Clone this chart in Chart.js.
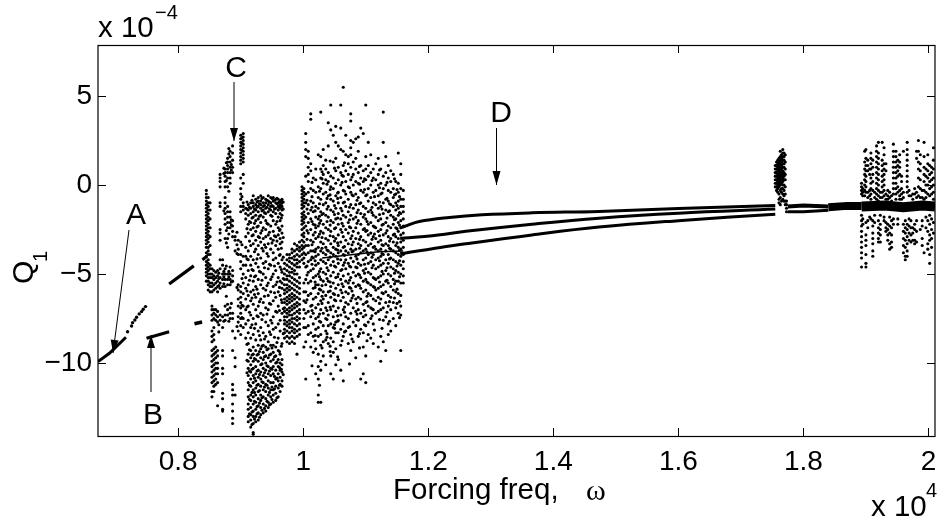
<!DOCTYPE html>
<html>
<head>
<script src="https://cdnjs.cloudflare.com/ajax/libs/Chart.js/4.4.0/chart.umd.js"></script>
<style>
  html, body { margin: 0; background: #fff; }
  canvas { display: block; }
</style>
<script>
  var xTicks = [0.8, 1, 1.2, 1.4, 1.6, 1.8, 2];
  var yTicks = [-10, -5, 0, 5];

  // smooth branches as [freq, Q]
  var branchA1 = [[0.6717,-9.92],[0.69,-9.45],[0.7164,-8.55]];
  var branchA2 = [[0.7855,-5.56],[0.8249,-4.54]];
  var branchA3 = [[0.8387,-4.2],[0.8462,-4.0]];
  var branchB1 = [[0.7493,-8.61],[0.7855,-8.24]];
  var branchB2 = [[0.826,-7.79],[0.8382,-7.69]];
  var upperBranch = [[1.155,-2.4],[1.1616,-2.33],[1.1856,-2.05],[1.2335,-1.82],[1.286,-1.67],[1.366,-1.56],[1.473,-1.48],[1.6,-1.32],[1.755,-1.15]];
  var middleBranch = [[1.155,-3.0],[1.1616,-2.98],[1.2065,-2.85],[1.26,-2.6],[1.366,-2.2],[1.473,-1.86],[1.6,-1.58],[1.755,-1.35]];
  var lowerBranch = [[1.155,-3.85],[1.1616,-3.83],[1.2065,-3.58],[1.26,-3.3],[1.366,-2.8],[1.473,-2.36],[1.6,-2.0],[1.755,-1.64]];
  var cloudThread = [[1.03,-4.1],[1.08,-3.9],[1.12,-3.75],[1.16,-3.7]];
  var afterBurstUpper = [[1.775,-1.2],[1.8,-1.15],[1.84,-1.2]];
  var afterBurstLower = [[1.775,-1.5],[1.8,-1.5],[1.84,-1.42]];
  var plateau = [[1.84,-1.25],[1.87,-1.17],[1.893,-1.17]];
  var rightBand = [[1.893,-1.2],[1.93,-1.15],[1.96,-1.25],[1.99,-1.15],[2.0105,-1.2]];

  // isolated dots on the way up branch A
  var stepFreq = [0.719,0.7254,0.727,0.7307,0.7334,0.7376,0.7414,0.744,0.7477];
  var stepQ = [-8.24,-7.92,-7.73,-7.58,-7.43,-7.24,-7.11,-6.98,-6.83];

  // scattered regions: one frequency per column, the Q values seen in that column
  var cloudAFreq = [0.845,0.848,0.851,0.854,0.857,0.86,0.863,0.867,0.871,0.875,0.879,0.883,0.887,0.891,0.896,0.9,0.904,0.908];
  var cloudAQ = [
    [-0.3,-0.5,-0.7,-0.9,-1.1,-1.3,-1.5,-1.7,-1.9,-2.1,-2.3,-2.5,-2.7,-2.9,-3.1,-3.3,-3.5,-3.8,-4,-4.3,-4.5,-4.7,-4.9,-5.1,-5.4],
    [-0.7,-1,-1.2,-1.4,-1.6,-1.8,-2,-2.2,-2.4,-2.6,-2.8,-3,-3.2,-3.5,-3.7,-3.9,-4.2,-4.4,-4.6,-4.8,-5,-5.2,-5.4,-5.6,-5.9],
    [-1,-1.4,-1.9,-2.4,-2.9,-3.4,-3.9,-4.5,-4.7,-5,-5.2,-5.5,-5.7,-6],
    [-4.7,-5,-5.2,-5.5,-5.7,-6,-6.8,-7,-7.3,-7.6,-8.2,-8.5,-8.8,-9.3,-9.6,-9.9,-10.2,-10.5,-10.8,-11.1,-11.6,-11.9],
    [-4.8,-5.1,-5.3,-5.6,-5.9,-7,-7.2,-7.5,-8,-8.4,-8.7,-9.2,-9.5,-9.8,-10.1,-10.4,-10.7,-11,-11.3,-11.6],
    [-4.9,-5.2,-5.5,-5.8,-7,-7.3,-7.6,-9.1,-9.4,-9.7,-10,-10.3,-10.6,-10.9,-11.2],
    [-4.8,-5.1,-5.4,-5.7,-6,-7.1,-7.4,-7.7,-9.3,-9.6,-10,-10.3,-10.6,-11.1,-12.4],
    [0.6,0.4,0.2,-0.1,-1,-1.2,-2.5,-2.7,-3.1,-4.2,-4.7,-5.2,-5.5,-5.8,-7.3,-7.6],
    [-4.2,-4.5,-5,-5.3,-5.7,-7.4,-8,-9.3,-9.6,-10.3,-10.6,-11.7,-12,-12.6,-12.7],
    [0.9,0.7,0.5,0.2,-0.1,-0.7,-1,-1.3,-1.6,-1.9,-2.2,-3,-4.7,-5,-5.3,-5.7,-6.8,-7.3,-7.6],
    [1.5,1.3,1.1,0.9,0.7,0.4,-0.1,-1.2,-1.5,-1.8,-2.1,-2.4,-3,-3.5,-5,-5.3,-5.6,-6.7,-7,-7.3],
    [1.9,1.6,1.3,1,0.7,0.4,0.1,-1.5,-1.8,-2.1,-2.4,-4.6,-5,-5.3,-5.6,-6.9,-7.2,-7.5],
    [2.2,1.8,1.4,1,0.7,-2,-2.3,-2.6,-2.9,-4.8,-5.1,-5.4,-7.2,-7.5,-8.2,-9.3,-11.2,-11.5,-11.8,-12.3,-12.7,-13.1,-13.4],
    [-2.9,-3.1,-3.7,-8.6,-9.7,-10.2,-11.8],
    [-3.1,-3.6,-3.9,-5.6,-5.9,-6.4,-6.8,-7.4,-7.7,-8.2],
    [2.8,2.6,2.4,2.2,2,1.8,1.6,1.4,1.2,0.4,-0.2,-0.5,-0.8,-1.2,-1.5,-3.2,-3.9,-4.3,-4.7,-5.7,-6,-6.3,-6.6,-6.9,-7.2,-7.5,-7.9,-8.4],
    [2.9,2.7,2.5,2.3,2.1,1.9,1.7,1.5,1.3,0.6,0.1,-1,-1.2,-1.4,-4,-4.5,-5,-5.5,-6.1,-6.8,-7.5,-8],
    [-1.3,-1.6,-1.9,-2.9,-3.5,-4,-4.5,-5.2,-5.8,-6.4,-7,-7.8,-8.6]
  ];

  var cloudBFreq = [0.912,0.916,0.92,0.924,0.928,0.932,0.936,0.94,0.944,0.948,0.952,0.956,0.96,0.963,0.966];
  var cloudBQ = [
    [-1.1,-1.4,-1.7,-2.2,-2.7,-3.7,-4.2,-4.8,-5.6,-6.2,-6.8,-7.6,-8.3,-8.9,-9.5,-9.9,-10.3,-10.7,-11.1,-11.5,-11.9,-12.3,-12.6,-13,-13.3],
    [-1,-1.3,-1.6,-2.1,-2.5,-3.4,-4,-4.5,-5.1,-6,-6.5,-7.3,-8,-8.6,-9.3,-9.7,-10.1,-10.5,-10.9,-11.3,-11.8,-12.1,-12.5,-12.9,-13.2,-13.6],
    [-0.6,-1,-1.2,-1.5,-1.8,-2.4,-2.8,-3.3,-4.2,-4.8,-5.4,-5.9,-6.7,-7.5,-8.4,-9.1,-9.5,-9.9,-10.3,-10.7,-11.1,-11.5,-11.9,-12.3,-12.7,-13,-13.4,-13.9,-14],
    [-0.8,-1.1,-1.4,-1.7,-2,-2.6,-3.1,-3.6,-4.4,-5.1,-5.7,-6.3,-7,-7.8,-8.7,-9.3,-9.8,-10.2,-10.6,-11,-11.4,-11.8,-12.2,-12.6,-13,-13.3],
    [-0.7,-0.9,-1.2,-1.5,-1.9,-2.3,-2.9,-3.4,-3.9,-4.6,-5.3,-6.1,-6.8,-7.4,-8.2,-9,-9.5,-9.9,-10.4,-10.8,-11.2,-11.6,-12,-12.4,-12.8,-13.2],
    [-0.6,-0.9,-1.1,-1.3,-1.7,-2.1,-2.7,-3.2,-4.1,-4.9,-5.6,-6.4,-7.2,-8,-8.7,-9.2,-9.7,-10.1,-10.5,-10.9,-11.3,-11.8,-12.1,-12.5,-12.9],
    [-0.7,-1,-1.2,-1.4,-1.8,-2.4,-3,-3.7,-4.4,-5,-5.8,-6.6,-7.3,-8.3,-9,-9.4,-9.8,-10.3,-10.7,-11.1,-11.5,-11.9,-12.3,-12.8],
    [-0.8,-1,-1.3,-1.6,-2,-2.5,-2.9,-3.5,-4.3,-5.2,-5.9,-6.9,-7.7,-8.5,-9.1,-9.6,-10,-10.4,-10.8,-11.2,-11.6,-12,-12.4,-12.7],
    [-0.6,-0.9,-1.1,-1.5,-2.2,-2.8,-3.3,-4,-4.7,-5.5,-6.2,-7,-7.9,-8.8,-9.2,-9.7,-10.2,-10.6,-11,-11.4,-11.8,-12.2,-12.5],
    [-0.7,-1,-1.2,-1.4,-1.7,-2.3,-3,-3.6,-4.5,-5.3,-6,-6.7,-7.6,-8.4,-9,-9.5,-9.9,-10.3,-10.7,-11.1,-11.5,-11.9,-12.3],
    [-0.7,-0.9,-1.2,-1.5,-2,-2.6,-3.1,-3.8,-4.2,-5,-5.7,-6.5,-7.4,-8.1,-9,-9.4,-9.8,-10.2,-10.6,-11.1,-11.5,-11.8,-12.2],
    [-0.8,-1,-1.3,-1.6,-2.2,-2.9,-3.4,-4.1,-4.8,-5.6,-6.3,-7.1,-8,-9.1,-9.6,-10,-10.4,-10.9,-11.3,-11.7,-12.1],
    [-0.8,-1,-1.2,-1.4,-1.8,-2.4,-2.8,-3.6,-4.4,-5.2,-6,-6.8,-7.8,-8.6,-9.3,-9.8,-10.2,-10.6,-11,-11.4,-11.9],
    [-0.9,-1.1,-1.3,-1.6,-2,-2.5,-3,-3.3,-3.9,-4.6,-5.4,-6.2,-7.6,-8.2,-9.5,-10,-10.4,-10.8,-11.2,-11.6],
    [-0.8,-1,-1.2,-1.4,-1.7,-2.3,-2.7,-3.2,-4.2,-4.9,-5.5,-5.8,-6.6,-7.2,-8.9,-9.8,-10.1,-10.5,-11,-11.3]
  ];

  var cloudCFreq = [0.97,0.974,0.978,0.982,0.986,0.99,0.994,0.998,1.001];
  var cloudCQ = [
    [-4.4,-4.7,-5,-5.3,-5.6,-5.9,-6.1,-6.4,-6.6,-6.9,-7.1,-7.4,-7.6,-7.8,-8.1,-8.3,-8.6],
    [-3.9,-4.2,-4.5,-4.8,-5.1,-5.3,-5.6,-5.8,-6,-6.3,-6.5,-6.7,-7,-7.2,-7.4,-7.7,-7.9,-8.2,-8.5,-8.8],
    [-3.9,-4.1,-4.3,-4.6,-4.9,-5.1,-5.4,-5.7,-5.9,-6.2,-6.4,-6.6,-6.9,-7.1,-7.3,-7.6,-7.8,-8,-8.3,-8.6,-8.9],
    [-3.6,-3.8,-4.1,-4.4,-4.7,-4.9,-5.2,-5.5,-5.8,-6.1,-6.3,-6.5,-6.8,-7,-7.3,-7.5,-7.7,-8,-8.2,-8.5,-8.8],
    [-3.3,-3.7,-4,-4.2,-4.5,-4.8,-5,-5.3,-5.6,-5.9,-6.2,-6.4,-6.7,-6.9,-7.2,-7.5,-7.8,-8.1,-8.3,-8.6,-8.9],
    [-3.4,-3.6,-3.9,-4.2,-4.4,-4.6,-5,-5.4,-5.7,-6,-6.3,-6.6,-6.8,-7.1,-7.4,-7.6,-7.9,-8.2,-8.5,-9.5],
    [-3.2,-3.5,-3.7,-4,-4.3,-4.6,-5.2,-5.5,-5.8,-6.1,-6.4,-6.7,-7,-7.2,-7.5,-7.8,-8.1,-8.4],
    [-0.1,-0.3,-0.5,-0.7,-0.9,-1.1,-1.3,-1.6,-1.8,-2,-2.2,-2.5,-2.8,-3.1,-3.4,-3.6,-3.9,-4.2],
    [-0.2,-0.4,-0.6,-0.8,-1,-1.2,-1.5,-1.7,-1.9,-2.1,-2.4,-2.7,-2.9,-3.2,-3.5,-3.8,-4.1,-4.4,-5.5,-6,-6.5,-7,-7.5,-8,-9.1]
  ];

  var cloudDFreq = [1.004,1.008,1.012,1.016,1.02,1.024,1.028,1.032,1.036,1.04,1.044,1.048,1.052,1.056,1.06,1.064,1.068,1.072,1.076,1.08,1.084,1.088,1.092,1.096,1.1,1.104,1.108,1.112,1.116,1.12,1.124,1.128,1.132,1.136,1.14,1.144,1.148,1.152,1.156,1.16];
  var cloudDQ = [
    [2.9,2.4,2,1.6,0.5,-0.5,-1,-1.8,-2.3,-3.4,-3.9,-4.6,-5.3,-6,-6.6,-7.2,-8,-8.8,-10.9],
    [1.9,1.5,1,0.6,0.2,-0.4,-1.1,-1.6,-2.1,-2.7,-3.4,-3.8,-4.3,-4.9,-5.5,-6.2,-7.1,-7.9,-8.4],
    [4,3.7,1.2,0.8,-0.2,-0.9,-1.4,-1.9,-2.5,-3.1,-3.7,-4.2,-4.8,-5.4,-6.1,-6.8,-7.4,-8.3,-9.1],
    [0.4,-0.3,-1,-1.5,-2.2,-2.8,-3.2,-3.7,-4.1,-4.7,-5.2,-5.8,-6.4,-7.2,-7.8,-8.5,-9.4],
    [0.9,0.3,-0.4,-1.2,-1.8,-2.4,-3,-3.6,-4,-4.5,-5.1,-5.6,-6.3,-6.9,-7.5,-8.1,-9.2,-10.6],
    [1.7,-0.1,-0.7,-1.3,-1.9,-2.3,-2.9,-3.5,-3.9,-4.4,-5,-5.6,-6.1,-6.7,-7.4,-8,-8.5,-9.5,-10.2,-10.9,-11.8,-12.2],
    [4.1,1.6,0.9,0.4,-0.2,-0.8,-1.5,-2,-2.6,-3.2,-3.7,-4.2,-4.7,-5.3,-5.9,-6.5,-7,-7.7,-8.4,-9,-9.9,-10.4,-12.2],
    [2,1.1,0.6,0.1,-0.5,-1.1,-1.6,-2.2,-2.7,-3.3,-3.8,-4.3,-4.9,-5.4,-6,-6.4,-7.2,-7.9,-8.8,-9.6],
    [1.4,0.9,0.3,-0.4,-1,-1.7,-2.4,-3,-3.5,-3.9,-4.4,-5,-5.6,-6.2,-6.9,-7.5,-8.2,-8.7,-10.1],
    [3.5,2.2,0.7,0.2,-0.6,-1.2,-1.8,-2.5,-3.1,-3.7,-4.2,-4.8,-5.4,-6,-6.6,-7.3,-7.9,-8.9],
    [4.5,3.1,0.5,-0.1,-0.8,-1.4,-2,-2.6,-3.3,-3.8,-4.5,-5.1,-5.7,-6.3,-7,-7.8,-8.6,-9.6,-10.6],
    [2.8,1.3,0.4,-0.2,-0.9,-1.5,-2.1,-2.9,-3.5,-3.9,-4.3,-4.9,-5.5,-6.1,-6.8,-7.4,-8,-8.8,-9.4,-10.9],
    [3.3,2.4,1.5,0.8,0.1,-0.6,-1.3,-1.9,-2.4,-3,-3.6,-4,-4.6,-5.2,-5.8,-6.5,-7.1,-7.7,-8.3,-9.2,-10.1],
    [2.2,1,0.3,-0.4,-1,-1.6,-2.2,-2.8,-3.4,-3.8,-4.4,-5,-5.6,-6.2,-6.9,-7.6,-8.3,-9.8],
    [4.5,3.2,2,0.7,0,-0.7,-1.3,-1.9,-2.5,-3.2,-3.7,-4.2,-4.8,-5.3,-5.9,-6.5,-7.3,-8.1,-9,-10.4],
    [5.5,1.9,1.1,0.5,-0.3,-1,-1.7,-2.3,-2.9,-3.5,-3.9,-4.5,-5.1,-5.7,-6.3,-7,-7.8,-8.5,-11],
    [2.8,1.7,0.8,0.2,-0.5,-1.2,-1.8,-2.5,-3.1,-3.7,-4.2,-4.7,-5.4,-6,-6.6,-7.4,-8.2],
    [1.6,1.2,0.6,-0.1,-0.8,-1.5,-2.1,-2.7,-3.3,-3.8,-4.4,-5,-5.5,-6.1,-6.7,-7.5,-8,-8.9],
    [4,3.6,2.5,2.1,1.7,1,0.3,-0.4,-1.1,-1.7,-2.4,-3,-3.6,-4.1,-4.6,-5.2,-5.8,-6.5,-7.2,-8.4,-9.3],
    [2.4,1.3,0.6,0,-0.6,-1.3,-1.9,-2.6,-3.2,-3.7,-4.3,-4.9,-5.5,-6.2,-6.9,-7.7,-8.8],
    [2.6,1.5,0.9,0.2,-0.5,-1.1,-1.8,-2.4,-3,-3.6,-4,-4.6,-5.1,-5.7,-6.4,-7.1,-7.9,-9.7],
    [2.7,1.9,0.7,0.1,-0.7,-1.4,-2,-2.7,-3.3,-3.9,-4.4,-5,-5.6,-6.3,-7,-7.6,-8.5],
    [3.2,1.1,0.4,-0.3,-1,-1.6,-2.2,-2.9,-3.4,-3.8,-4.5,-5.2,-5.8,-6.4,-7.2,-8.1,-10.9],
    [2.9,0.8,0.2,-0.4,-1.2,-1.8,-2.5,-3.1,-3.7,-4.2,-4.8,-5.4,-6,-6.7,-7.4,-8.3,-9.1,-10.6],
    [4.5,1.6,0.9,0.3,-0.6,-1.3,-1.9,-2.6,-3.2,-3.6,-4.1,-4.7,-5.3,-5.9,-6.6,-7.3,-7.9,-9.6,-11.1],
    [2.4,1.1,0.5,-0.2,-0.9,-1.5,-2.2,-2.8,-3.4,-3.9,-4.4,-4.9,-5.5,-6.1,-6.8,-7.7,-8.4],
    [1.7,0.7,0,-0.7,-1.4,-2.1,-2.7,-3.3,-3.8,-4.3,-5,-5.6,-6.2,-6.9,-7.5,-8.6],
    [0.9,0.4,-0.4,-1,-1.7,-2.3,-2.9,-3.5,-3.9,-4.5,-5.2,-5.7,-6.4,-7,-7.8,-8.9],
    [1.2,0.3,-0.3,-1.1,-1.8,-2.4,-3,-3.6,-4.2,-4.7,-5.3,-5.9,-6.5,-7.2],
    [1.5,0.6,0,-0.6,-1.3,-2,-2.6,-3.2,-3.7,-4.1,-4.6,-5.2,-5.8,-6.3,-7.1,-9.1],
    [0.9,0.1,-0.5,-1.2,-1.9,-2.5,-3.1,-3.6,-4,-4.5,-5.1,-5.7,-6.4,-7,-8.5,-9.9],
    [4.1,2.4,0.5,-0.2,-1,-1.6,-2.2,-2.8,-3.4,-3.9,-4.4,-5,-5.6,-6.1,-6.9,-7.6,-8.8],
    [1.6,0.7,0,-0.8,-1.4,-2.1,-2.7,-3.3,-3.7,-4.2,-4.8,-5.4,-6,-6.6,-7.4,-9.3],
    [1.1,0.4,-0.3,-0.9,-1.5,-2.3,-2.9,-3.4,-3.9,-4.4,-5,-5.5,-6.2,-6.8,-7.8,-8.4],
    [0.8,0.2,-0.4,-1.1,-1.7,-2.4,-3,-3.6,-4.1,-4.6,-5.1,-5.7,-6.3,-7,-8.2],
    [0.6,-0.2,-0.7,-1.2,-1.8,-2.2,-2.8,-3.2,-3.7,-4.2,-4.7,-5.3,-5.9,-6.6,-7.5],
    [0.2,-0.5,-1,-1.4,-1.9,-2.4,-2.9,-3.4,-3.8,-4.3,-4.8,-5.4,-6,-6.9,-7.9],
    [1.8,0.1,-0.4,-0.9,-1.3,-1.7,-2.1,-2.6,-3,-3.5,-3.9,-4.4,-4.9,-5.4,-6.1,-7.2],
    [1.2,0.6,-0.2,-0.8,-1.2,-1.6,-2,-2.4,-2.8,-3.2,-3.6,-4,-4.5,-5,-5.5,-6.2,-6.8,-7.3,-9.3],
    [-0.3,-0.8,-1.2,-1.5,-1.9,-2.3,-2.7,-3.1,-3.5,-3.9,-4.3,-4.7,-5.1,-5.5]
  ];

  // second reading of the big cloud, the clusters the first pass left out
  var cloudEFreq = [1.006,1.014,1.019,1.026,1.03,1.038,1.043,1.05,1.055,1.062,1.066,1.074,1.078,1.086,1.09,1.098,1.102,1.11,1.114,1.122,1.126,1.134,1.138,1.146,1.15,1.154];
  var cloudEQ = [
    [-0.85,-1.35,-2.55,-3.05,-4.55,-5.05,-6.45],
    [0.15,-0.65,-1.25,-2.05,-3.35,-4.05,-4.45,-6.75,-7.05,-10.15],
    [-1.45,-2.25,-2.65,-3.75,-4.25,-5.45,-5.75,-8.45,-8.75],
    [-0.35,-1.05,-1.75,-2.15,-2.75,-4.85,-5.15,-5.85,-7.25,-7.65,-11.25],
    [0.75,0.35,-1.65,-2.95,-3.55,-5.65,-6.25,-6.65,-9.15],
    [0.05,-0.75,-1.35,-2.05,-3.65,-4.65,-5.25,-7.05,-7.55,-8.35,-8.55],
    [1.35,-0.25,-0.55,-2.25,-2.85,-4.05,-5.45,-5.95,-6.85,-9.05,-9.35],
    [0.95,-1.15,-1.65,-2.45,-3.15,-4.55,-6.15,-6.45,-7.85,-8.05],
    [-0.45,-0.75,-1.85,-3.25,-3.65,-4.15,-5.15,-7.35,-7.65,-9.65],
    [0.55,0.15,-1.45,-2.15,-2.65,-4.75,-5.55,-6.05,-8.75],
    [1.25,-0.35,-0.95,-3.45,-3.95,-4.35,-6.85,-7.15,-8.25],
    [-0.15,-1.25,-1.95,-2.35,-4.55,-5.35,-5.75,-7.95,-10.05],
    [0.45,-0.55,-2.85,-3.35,-3.75,-5.95,-6.35,-8.65],
    [-0.85,-1.55,-2.15,-4.15,-4.65,-6.65,-7.25,-7.55],
    [1.05,0.05,-1.05,-3.05,-3.55,-5.05,-5.65,-8.35,-9.15],
    [0.35,-0.25,-1.65,-2.45,-4.45,-4.95,-7.05,-7.85],
    [-0.55,-2.05,-2.55,-3.75,-5.45,-6.25,-6.55,-8.75],
    [0.25,-1.25,-1.55,-3.05,-4.05,-4.65,-6.95,-7.35],
    [-0.65,-2.35,-2.75,-3.45,-5.25,-5.75,-8.15],
    [0.85,-0.15,-0.95,-1.65,-2.85,-4.25,-5.45,-6.65,-7.55],
    [-0.45,-1.35,-2.25,-3.35,-3.85,-4.85,-6.05,-8.05],
    [0.15,-0.75,-1.85,-2.55,-4.65,-5.35,-7.15],
    [-1.05,-1.45,-3.15,-3.55,-4.15,-6.55,-7.65],
    [0.35,-0.55,-1.95,-2.75,-4.95,-5.55,-6.35],
    [-0.25,-1.15,-2.45,-3.25,-4.55,-5.85,-6.65],
    [-0.65,-1.55,-2.25,-3.65,-4.25,-5.15,-6.55,-7.45]
  ];

  // same idea for the left clouds
  var cloudFFreq = [0.865,0.873,0.877,0.881,0.885,0.894,0.902,0.91,0.914,0.918,0.922,0.926,0.93,0.934,0.938,0.942,0.946,0.95,0.954,0.958,0.962,0.965,0.968];
  var cloudFQ = [
    [-4.95,-5.25,-5.65,-7.85,-8.25],
    [0.95,0.65,-1.45,-4.85,-5.15,-5.55,-7.65],
    [1.25,0.25,-2.55,-3.25,-4.55,-6.25],
    [2.05,1.75,-0.35,-2.75,-4.85,-5.15,-7.65],
    [1.15,0.85,-1.95,-2.25,-5.45,-6.65],
    [-2.65,-3.35,-3.85,-5.75,-7.95],
    [2.65,2.35,1.95,-0.65,-3.35,-5.25,-6.75,-7.45],
    [-0.95,-1.35,-2.45,-4.15,-5.95,-6.85,-8.95,-9.85,-10.55],
    [-1.25,-2.05,-3.15,-5.35,-7.15,-9.25,-10.45,-11.25,-12.05,-12.85],
    [-0.85,-1.85,-2.85,-4.75,-6.35,-7.85,-9.55,-10.35,-11.65,-12.75,-13.45],
    [-1.35,-2.15,-3.75,-5.15,-6.15,-8.05,-9.75,-10.85,-11.65,-12.15,-13.15],
    [-0.95,-1.25,-2.35,-4.15,-5.85,-7.35,-9.55,-10.45,-11.25,-12.45,-12.85],
    [-1.05,-1.75,-2.95,-4.85,-6.55,-8.45,-9.35,-10.65,-11.55,-12.25,-13.05],
    [-0.75,-1.45,-2.55,-3.55,-5.35,-7.55,-9.05,-10.05,-11.05,-11.95,-12.65],
    [-1.15,-1.55,-3.35,-4.65,-6.25,-8.65,-9.65,-10.55,-11.35,-12.55],
    [-0.85,-1.25,-2.15,-3.85,-5.65,-7.25,-9.25,-10.15,-11.25,-12.15],
    [-0.95,-1.35,-2.65,-4.45,-6.65,-8.25,-9.55,-10.45,-11.65,-12.35],
    [-0.75,-1.15,-1.75,-3.25,-5.15,-7.75,-9.15,-10.35,-11.35,-12.05],
    [-0.85,-1.35,-2.85,-4.55,-6.05,-8.55,-9.65,-10.75,-11.45],
    [-0.75,-1.05,-2.05,-3.15,-5.45,-7.15,-8.85,-9.95,-10.85,-11.95],
    [-0.95,-1.25,-2.55,-3.95,-5.75,-7.05,-9.35,-10.25,-11.25],
    [-0.85,-1.15,-1.85,-3.55,-4.75,-6.45,-9.05,-10.35],
    [-0.95,-1.35,-2.95,-4.05,-5.25,-6.95,-8.35,-10.65]
  ];

  var burstFreq = [1.755,1.757,1.759,1.761,1.763,1.765,1.767,1.769,1.771,1.773];
  var burstQ = [
    [1.1,0.9,0.7,0.5,0.3,0.1,-0.1],
    [1.3,1.1,0.9,0.7,0.5,0.3,0.1,-0.1,-0.3],
    [1.4,1.2,1,0.8,0.6,0.4,0.2,0,-0.2,-0.4],
    [1.5,1.3,1.1,0.9,0.7,0.5,0.3,0.1,-0.1,-0.5,-0.8,-1],
    [1.9,1.6,1.4,1.2,1,0.8,0.6,0.4,0.2,0,-0.3,-0.7,-1.1],
    [1.7,1.5,1.3,1.1,0.9,0.7,0.5,0.3,0.1,-0.2,-0.4,-0.9],
    [2,1.8,1.6,1.4,1.2,1,0.8,0.6,0.4,0.2,0,-0.2,-0.5,-0.8],
    [1.8,1.6,1.4,1.2,1,0.7,0.5,0.3,0,-0.3,-0.6,-0.9],
    [1.7,1.3,0.9,0.6,0.3,-0.1,-0.5,-0.9,-1.1],
    [-0.9,-1.1,-1.3,-1.5]
  ];

  var rightFreq = [1.893,1.895,1.898,1.9,1.903,1.906,1.908,1.911,1.914,1.917,1.92,1.923,1.926,1.929,1.932,1.935,1.938,1.941,1.944,1.948,1.951,1.954,1.957,1.96,1.963,1.966,1.969,1.972,1.975,1.978,1.981,1.984,1.987,1.99,1.993,1.996,1.999,2.002,2.005,2.008];
  var rightQ = [
    [0.1,-0.1,-0.3,-0.5,-1.7,-2,-2.3,-2.6,-2.9,-3.2,-3.5,-3.8,-4.1,-4.6],
    [-0.2,-0.4,-0.6,-1.9,-2.2],
    [1.9,1.3,0.9,0.6,0.3,0,-0.3,-0.6],
    [2,1.5,1.1,0.8,0.5,0.2,-0.1,-0.4,-2.1,-2.8,-3.1,-3.4,-3.9,-4.4,-4.6],
    [1.4,1.1,0.8,-0.4,-0.7,-2,-2.4],
    [0.9,0.6,-0.3,-0.6,-1.8],
    [1.8,1.5,1.2,0.9,0.4,0.1,-0.2,-0.5,-0.8,-1.9],
    [1.4,1,0.6,0.2,-0.3,-2,-2.3,-2.7,-3,-3.3,-3.7,-4],
    [-0.4,-0.7,-1.7,-2.1],
    [2.2,1.9,1.6,1.3,1,0.7,0.4,0.1,-0.2,-0.5,-0.8],
    [2.4,1.8,1.5,1.2,0.9,0.6,0.3,0,-0.3,-0.6,-0.9,-2,-2.4,-2.7,-3,-3.2],
    [-0.4,-0.7,-1.7,-2.2,-2.5,-2.8,-3.2],
    [2.4,1.4,1.1,0.8,0.5,0.2,-0.1,-0.4,-0.7],
    [2.1,1.7,1.2,0.9,0.6,0.3,0,-0.3,-0.6,-1.8,-2],
    [1.2,0.8,-0.5,-0.8,-2.1,-2.4,-2.6],
    [-0.3,-0.6,-0.8,-2.2,-2.5,-2.8,-3.1],
    [-0.4,-0.7,-1.8,-2.3,-2.7,-3.3,-3.6],
    [-0.6,-0.9,-2,-2.4,-2.8,-3.2,-3.5],
    [2.3,1.9,1.6,1.3,1,0.7,0.4,0.1,-0.2,-0.5,-1.9,-2.2],
    [1.9,1.6,1.3,1,0.7,0.4,0.1,-0.2,-0.5,-0.8],
    [1.4,1.1,0.8,0.5,-0.1,-0.4,-1.9,-2.2],
    [1.7,1.3,1,0.6,-0.3,-0.6,-0.8],
    [0.5,0.2,-0.2,-0.5,-0.8],
    [1.9,-0.4,-0.7,-2.2,-2.6,-3,-3.4,-3.8],
    [-2,-2.4,-2.7,-3.1,-3.5,-4,-4.2],
    [2.4,2,1.7,1.4,1.1,0.8,0.5,0.2,-0.1,-0.4,-2.2,-2.5,-2.9,-3.3,-3.7,-4],
    [-0.3,-0.6,-1.9,-2.3,-2.7,-3.1],
    [-0.6,-2,-2.4,-2.8,-3.2],
    [-0.5,-0.8,-2.4,-2.7,-3.1],
    [-0.2,-0.5,-2.2,-2.5,-3.1,-3.3],
    [1.9,1.5,-0.4,-0.7,-2,-2.6,-3.2],
    [2.5,1.9,1.3,0.9,0.4,-0.1,-0.6],
    [1.7,1.2,0.8,0.3,-0.2,-0.7,-2.5],
    [-0.3,-0.7,-2,-2.3,-3,-3.4],
    [2.4,1.6,1,0.6,0.2,-0.3,-0.8,-3.8],
    [0.9,0.5,0,-0.4,-0.7,-1.8,-2.4],
    [1.7,1.2,0.8,0.4,0,-0.5,-2,-2.6,-3.3,-3.6],
    [1.1,0.6,0.2,-0.2,-0.6,-1.7,-2.2,-2.8,-3.1,-3.9,-4.4],
    [1,0.7,0.3,-0.1,-0.5,-1.9,-2.5,-3,-3.5],
    [2.1,1.4,0.9,0.4,0,-0.4,-0.8,-2.1,-2.7]
  ];

  function columnsToPoints(freqs, qs) {
    var pts = [];
    for (var i = 0; i < freqs.length; i++) {
      for (var j = 0; j < qs[i].length; j++) {
        pts.push({x: freqs[i], y: qs[i][j]});
      }
    }
    return pts;
  }

  function dots(freqs, qs) {
    return {data: columnsToPoints(freqs, qs), pointRadius: 1.55, pointBackgroundColor: '#000', pointBorderWidth: 0, showLine: false};
  }

  function curve(pairs, width, tension) {
    return {
      data: pairs.map(function (p) { return {x: p[0], y: p[1]}; }),
      showLine: true, pointRadius: 0, borderColor: '#000', borderWidth: width, tension: tension || 0
    };
  }

  function arrow(ctx, x1, y1, x2, y2, headLen, headW) {
    var a = Math.atan2(y2 - y1, x2 - x1);
    ctx.beginPath();
    ctx.moveTo(x1, y1);
    ctx.lineTo(x2, y2);
    ctx.stroke();
    var bx = x2 - headLen * Math.cos(a), by = y2 - headLen * Math.sin(a);
    ctx.beginPath();
    ctx.moveTo(x2, y2);
    ctx.lineTo(bx - headW / 2 * Math.sin(a), by + headW / 2 * Math.cos(a));
    ctx.lineTo(bx + headW / 2 * Math.sin(a), by - headW / 2 * Math.cos(a));
    ctx.closePath();
    ctx.fill();
  }

  // ticks inside the box on all four sides, labels and arrows; chart.js has no inward ticks
  var framePlugin = {
    id: 'frame',
    afterDraw: function (chart) {
      var ctx = chart.ctx, a = chart.chartArea, sx = chart.scales.x, sy = chart.scales.y;
      ctx.save();
      ctx.strokeStyle = '#000';
      ctx.fillStyle = '#000';
      ctx.lineWidth = 1;
      xTicks.forEach(function (t) {
        var x = Math.round(sx.getPixelForValue(t)) + 0.5;
        ctx.beginPath();
        ctx.moveTo(x, a.top); ctx.lineTo(x, a.top + 8);
        ctx.moveTo(x, a.bottom); ctx.lineTo(x, a.bottom - 8);
        ctx.stroke();
      });
      yTicks.forEach(function (t) {
        var y = Math.round(sy.getPixelForValue(t)) + 0.5;
        ctx.beginPath();
        ctx.moveTo(a.left, y); ctx.lineTo(a.left + 8, y);
        ctx.moveTo(a.right, y); ctx.lineTo(a.right - 8, y);
        ctx.stroke();
      });
      ctx.lineWidth = 1.2;
      ctx.strokeRect(a.left, a.top + 0.5, a.right - a.left, a.bottom - a.top);

      ctx.lineWidth = 1;
      arrow(ctx, 129, 230, 113, 353, 13, 8);
      arrow(ctx, 151, 392, 151, 335, 13, 8);
      arrow(ctx, 234, 82, 234, 141, 13, 8);
      arrow(ctx, 496.5, 128, 496.5, 185, 14, 8);

      ctx.textBaseline = 'alphabetic';
      ctx.textAlign = 'center';
      ctx.font = '30px "Liberation Sans"';
      ctx.fillText('A', 136, 224);
      ctx.fillText('B', 153, 424);
      ctx.fillText('C', 236, 77);
      ctx.fillText('D', 501, 122);

      ctx.textAlign = 'left';
      ctx.font = '29.5px "Liberation Sans"';
      ctx.fillText('Forcing freq,', 393, 499);
      ctx.font = '30px "Liberation Serif"';
      ctx.fillText('\u03c9', 586, 500);

      ctx.font = '29.5px "Liberation Sans"';
      ctx.fillText('x 10', 98, 37);
      ctx.fillText('x 10', 871, 516);
      ctx.font = '20px "Liberation Sans"';
      ctx.fillText('\u22124', 155, 19);
      ctx.fillText('4', 926, 497);

      ctx.save();
      ctx.translate(33, 284);
      ctx.rotate(-Math.PI / 2);
      ctx.font = '30px "Liberation Sans"';
      ctx.fillText('Q', 0, 0);
      ctx.font = '20px "Liberation Sans"';
      ctx.fillText('1', 22, 14);
      ctx.restore();
      ctx.restore();
    }
  };

  function afterPageLoad() {
    var ctx = document.getElementById('myChart').getContext('2d');
    new Chart(ctx, {
      type: 'scatter',
      data: {
        datasets: [
          curve(branchA1, 3), curve(branchA2, 3.2), curve(branchA3, 3.2),
          curve(branchB1, 3.2), curve(branchB2, 3.5),
          curve(upperBranch, 3, 0.4), curve(middleBranch, 3, 0.4), curve(lowerBranch, 3, 0.4),
          curve(cloudThread, 1.5),
          curve(afterBurstUpper, 4), curve(afterBurstLower, 3), curve(plateau, 8), curve(rightBand, 10),
          {data: stepFreq.map(function (f, i) { return {x: f, y: stepQ[i]}; }), pointRadius: 1.7, pointBackgroundColor: '#000', pointBorderWidth: 0, showLine: false},
          dots(cloudAFreq, cloudAQ), dots(cloudBFreq, cloudBQ), dots(cloudCFreq, cloudCQ), dots(cloudDFreq, cloudDQ),
          dots(cloudEFreq, cloudEQ), dots(cloudFFreq, cloudFQ),
          dots(burstFreq, burstQ), dots(rightFreq, rightQ)
        ]
      },
      options: {
        responsive: false,
        animation: false,
        layout: {padding: {top: 45, right: 2, left: 0, bottom: 0}},
        plugins: {legend: {display: false}, tooltip: {enabled: false}},
        scales: {
          x: {
            type: 'linear', min: 0.6717, max: 2.0105,
            afterBuildTicks: function (s) { s.ticks = xTicks.map(function (v) { return {value: v}; }); },
            afterFit: function (s) { s.height = 87; s.paddingLeft = 0; s.paddingRight = 0; },
            grid: {display: false},
            border: {display: false},
            ticks: {
              autoSkip: false, maxRotation: 0, padding: 1, color: '#000',
              font: {family: 'Liberation Sans', size: 28},
              callback: function (v) { return String(v); }
            }
          },
          y: {
            type: 'linear', min: -14.1, max: 7.87,
            afterBuildTicks: function (s) { s.ticks = yTicks.map(function (v) { return {value: v}; }); },
            afterFit: function (s) { s.width = 98; s.paddingTop = 0; s.paddingBottom = 0; },
            grid: {display: false},
            border: {display: false},
            ticks: {
              autoSkip: false, padding: -2, color: '#000',
              font: {family: 'Liberation Sans', size: 28},
              callback: function (v) { return String(v).replace('-', '\u2212'); }
            }
          }
        }
      },
      plugins: [framePlugin]
    });
  }
</script>
</head>
<body onload="afterPageLoad()">
<canvas id="myChart" width="939" height="523"></canvas>
</body>
</html>
